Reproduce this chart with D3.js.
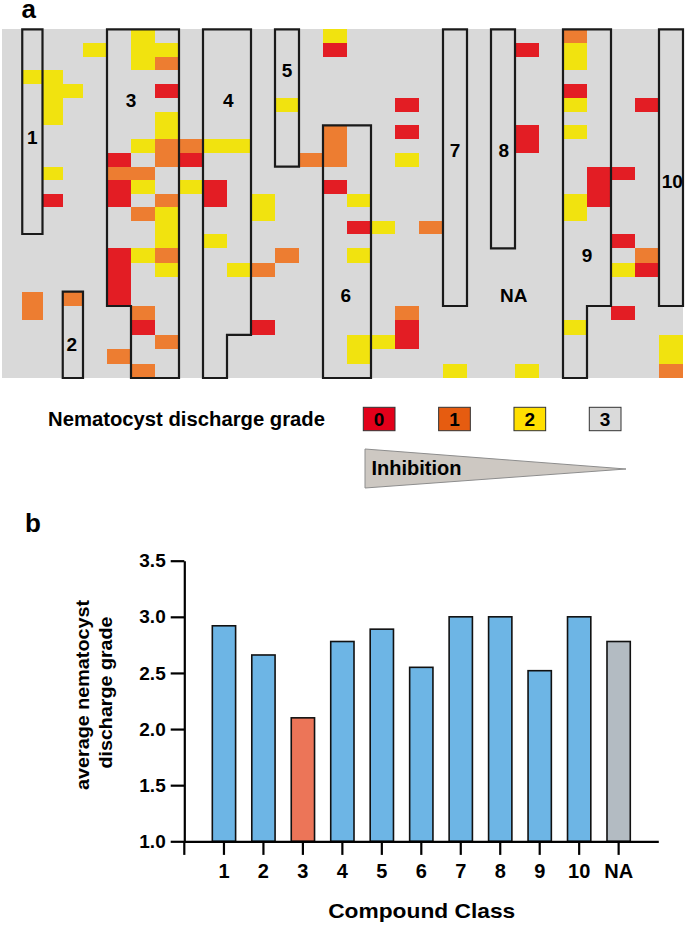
<!DOCTYPE html>
<html><head><meta charset="utf-8">
<script src="https://cdn.jsdelivr.net/npm/d3@7"></script>
<style>
body{margin:0;background:#fff;}
svg{display:block;font-family:"Liberation Sans",Arial,Helvetica,sans-serif;font-weight:bold;}
</style>
</head><body>
<svg id="chart" width="685" height="927"></svg>
<script>
// ---------------- DATA ----------------
const nCols = 29, nRows = 25;
// runs of non-3 grades: [column, firstRow, lastRow, grade]
const gradeRuns = [
 [1,3,3,2],[1,19,20,1],
 [2,3,6,2],[2,10,10,2],[2,12,12,0],
 [3,4,4,2],[3,19,19,1],
 [4,1,1,2],
 [5,9,9,0],[5,10,10,1],[5,11,12,0],[5,16,19,0],[5,23,23,1],
 [6,0,2,2],[6,8,8,2],[6,10,10,1],[6,11,11,2],[6,13,13,1],[6,16,16,2],[6,20,20,1],[6,21,21,0],[6,24,24,1],
 [7,1,1,2],[7,2,2,1],[7,4,4,0],[7,6,7,2],[7,8,9,1],[7,12,12,1],[7,13,15,2],[7,16,16,1],[7,17,17,2],[7,22,22,1],
 [8,8,8,1],[8,9,9,0],[8,11,11,2],
 [9,8,8,2],[9,11,12,0],[9,15,15,2],
 [10,8,8,2],[10,17,17,2],
 [11,12,13,2],[11,17,17,1],[11,21,21,0],
 [12,5,5,2],[12,16,16,1],
 [13,9,9,1],
 [14,0,0,2],[14,1,1,0],[14,7,9,1],[14,11,11,0],
 [15,12,12,2],[15,14,14,0],[15,16,16,2],[15,22,23,2],
 [16,14,14,2],[16,22,22,2],
 [17,5,5,0],[17,7,7,0],[17,9,9,2],[17,20,20,1],[17,21,22,0],
 [18,14,14,1],
 [19,24,24,2],
 [22,1,1,0],[22,7,8,0],[22,24,24,2],
 [24,0,0,1],[24,1,2,2],[24,4,4,0],[24,5,5,2],[24,7,7,2],[24,12,13,2],[24,21,21,2],
 [25,10,12,0],
 [26,10,10,0],[26,15,15,0],[26,17,17,2],[26,20,20,0],
 [27,5,5,0],[27,16,16,1],[27,17,17,0],
 [28,22,23,2],[28,24,24,1]
];
// compound class outlines in grid units [col,row] and label anchor
const groupLabels = ["1","2","3","4","5","6","7","8","9","10","NA"];
const groupOutlines = [
 [[1,0],[2,0],[2,15],[1,15]],
 [[3,19],[4,19],[4,25],[3,25]],
 [[5,0],[8,0],[8,25],[6,25],[6,20],[5,20]],
 [[9,0],[11,0],[11,22],[10,22],[10,25],[9,25]],
 [[12,0],[13,0],[13,10],[12,10]],
 [[14,7],[16,7],[16,25],[14,25]],
 [[19,0],[20,0],[20,20],[19,20]],
 [[21,0],[22,0],[22,16],[21,16]],
 [[24,0],[26,0],[26,20],[25,20],[25,25],[24,25]],
 [[28,0],[29,0],[29,20],[28,20]],
 null
];
const groupLabelAt = [[1.5,7.87],[3.45,22.64],[6.0,5.15],[10.05,5.15],[12.5,2.97],[14.95,19.22],[19.5,8.8],[21.53,8.8],[25.0,16.44],[28.55,11.05],[21.95,19.24]];

const legendGrades = ["0","1","2","3"];

const classes = ["1","2","3","4","5","6","7","8","9","10","NA"];
const avgGrade = [2.92, 2.66, 2.10, 2.78, 2.89, 2.55, 3.00, 3.00, 2.52, 3.00, 2.78];
const yTicks = [1.0, 1.5, 2.0, 2.5, 3.0, 3.5];

// ---------------- DRAW ----------------
const svg = d3.select("#chart");
const cellColor = ["#e31d24","#ed7d31","#f1e30f","#d9d9d9"];
const legendColor = ["#e2001a","#e65c10","#ffdf00","#dadada"];

// panel labels
svg.append("text").attr("x",21.5).attr("y",18).attr("font-size",26).text("a");
svg.append("text").attr("x",25).attr("y",532).attr("font-size",26).text("b");

// heatmap scales
const xc = d3.scaleLinear().domain([0,4,nCols]).range([2,83,683]);
const yr = d3.scaleLinear().domain([0,12,15,nRows]).range([29.3,194,234,378]);

// build grid
const grid = [];
for (let c=0;c<nCols;c++) for (let r=0;r<nRows;r++) grid.push({c,r,g:3});
gradeRuns.forEach(([c,r0,r1,g])=>{ for(let r=r0;r<=r1;r++) grid[c*nRows+r].g=g; });

const hm = svg.append("g");
hm.selectAll("rect").data(grid).join("rect")
  .attr("x",d=>xc(d.c)).attr("y",d=>yr(d.r))
  .attr("width",d=>xc(d.c+1)-xc(d.c)).attr("height",d=>yr(d.r+1)-yr(d.r))
  .attr("fill",d=>cellColor[d.g]).attr("shape-rendering","crispEdges");

const line = d3.line().x(p=>xc(p[0])).y(p=>yr(p[1]));
hm.selectAll("path.grp").data(groupOutlines.filter(o=>o)).join("path")
  .attr("class","grp").attr("d",d=>line(d)+"Z")
  .attr("fill","none").attr("stroke","#1a1a1a").attr("stroke-width",2.2);
hm.selectAll("text.gl").data(groupLabels).join("text")
  .attr("class","gl")
  .attr("x",(d,i)=>xc(groupLabelAt[i][0])).attr("y",(d,i)=>yr(groupLabelAt[i][1]))
  .attr("dy","0.36em").attr("text-anchor","middle").attr("font-size",19).text(d=>d);

// legend
svg.append("text").attr("x",48).attr("y",425.7).attr("font-size",20).attr("textLength",277).attr("lengthAdjust","spacingAndGlyphs").text("Nematocyst discharge grade");
const lx = d3.scalePoint().domain(legendGrades).range([363.3,589.3]);
const lg = svg.append("g");
lg.selectAll("rect").data(legendGrades).join("rect")
  .attr("x",d=>lx(d)).attr("y",407.3).attr("width",31.7).attr("height",23.4)
  .attr("fill",(d,i)=>legendColor[i]).attr("stroke","#333").attr("stroke-width",1);
lg.selectAll("text").data(legendGrades).join("text")
  .attr("x",d=>lx(d)+15.85).attr("y",425.5).attr("text-anchor","middle")
  .attr("font-size",19).text(d=>d);

svg.append("path").attr("d","M365,449L626,469L365,488Z")
  .attr("fill","#cdc8c2").attr("stroke","#8d8d8d").attr("stroke-width",1);
svg.append("text").attr("x",371.5).attr("y",475.3).attr("font-size",20).text("Inhibition");

// bar chart
const xb = d3.scaleBand().domain(classes).range([184.3,658.3]).paddingInner(0.41).paddingOuter(0.71);
const yb = d3.scaleLinear().domain([1,3.5]).range([841.3,560.7]);
const barColor = d=> d==="3" ? "#ec7558" : (d==="NA" ? "#b3bbc2" : "#6db5e5");
const bc = svg.append("g");
bc.selectAll("rect").data(classes).join("rect")
  .attr("x",d=>xb(d)).attr("width",xb.bandwidth())
  .attr("y",(d,i)=>yb(avgGrade[i])).attr("height",(d,i)=>yb(1)-yb(avgGrade[i]))
  .attr("fill",barColor).attr("stroke","#111").attr("stroke-width",1.6);

const yAx = bc.append("g").attr("transform","translate(184.3,0)")
  .call(d3.axisLeft(yb).tickValues(yTicks).tickFormat(d3.format(".1f")).tickSize(13.6).tickSizeOuter(0).tickPadding(5));
yAx.select(".domain").attr("stroke","#000").attr("stroke-width",2.2);
yAx.selectAll(".tick line").attr("stroke","#000").attr("stroke-width",2.2);
yAx.selectAll(".tick text").attr("font-size",19).attr("fill","#000")
  .attr("font-family","Liberation Sans, Arial, sans-serif").attr("font-weight","bold");
bc.append("line").attr("x1",184.3).attr("x2",184.3).attr("y1",yb(1)).attr("y2",yb(1)+13.6)
  .attr("stroke","#000").attr("stroke-width",2.2);

const xAx = bc.append("g").attr("transform",`translate(0,${yb(1)})`)
  .call(d3.axisBottom(xb).tickSize(13.6).tickSizeOuter(0).tickPadding(8.5));
xAx.select(".domain").attr("stroke","#000").attr("stroke-width",2.2);
xAx.selectAll(".tick line").attr("stroke","#000").attr("stroke-width",2.2);
xAx.selectAll(".tick text").attr("font-size",20).attr("fill","#000")
  .attr("font-family","Liberation Sans, Arial, sans-serif").attr("font-weight","bold");

svg.append("text").attr("x",421.7).attr("y",918).attr("text-anchor","middle")
  .attr("font-size",21).attr("textLength",187).attr("lengthAdjust","spacingAndGlyphs").text("Compound Class");
svg.append("text").attr("transform","translate(88.8,695) rotate(-90)").attr("text-anchor","middle")
  .attr("font-size",18).attr("textLength",190).attr("lengthAdjust","spacingAndGlyphs").text("average nematocyst");
svg.append("text").attr("transform","translate(112.4,692.5) rotate(-90)").attr("text-anchor","middle")
  .attr("font-size",18).attr("textLength",152).attr("lengthAdjust","spacingAndGlyphs").text("discharge grade");
</script>
</body></html>
